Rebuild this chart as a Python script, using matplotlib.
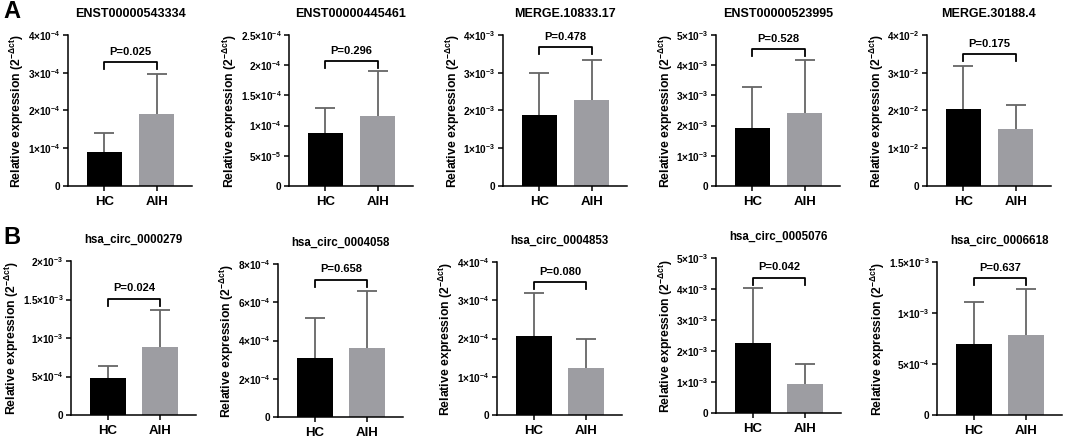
#!/usr/bin/env python3
"""bar charts of relative expression, HC vs AIH"""

import matplotlib
matplotlib.use("Agg")
import matplotlib.pyplot as plt

groups = ["HC", "AIH"]

titles_a = ["ENST00000543334", "ENST00000445461", "MERGE.10833.17",
            "ENST00000523995", "MERGE.30188.4"]
means_a = [[0.91e-4, 1.92e-4], [0.874e-4, 1.167e-4], [1.88e-3, 2.28e-3],
           [1.92e-3, 2.42e-3], [2.04e-2, 1.50e-2]]
sd_a = [[0.50e-4, 1.06e-4], [0.416e-4, 0.733e-4], [1.12e-3, 1.07e-3],
        [1.37e-3, 1.76e-3], [1.13e-2, 0.65e-2]]
pvals_a = ["P=0.025", "P=0.296", "P=0.478", "P=0.528", "P=0.175"]
bracket_a = [3.29e-4, 2.07e-4, 3.67e-3, 4.53e-3, 3.50e-2]
ymax_a = [4e-4, 2.5e-4, 4e-3, 5e-3, 4e-2]
ystep_a = [1e-4, 0.5e-4, 1e-3, 1e-3, 1e-2]

titles_b = ["hsa_circ_0000279", "hsa_circ_0004058", "hsa_circ_0004853",
            "hsa_circ_0005076", "hsa_circ_0006618"]
means_b = [[0.486e-3, 0.88e-3], [3.08e-4, 3.59e-4], [2.07e-4, 1.24e-4],
           [2.26e-3, 0.94e-3], [0.698e-3, 0.786e-3]]
sd_b = [[0.144e-3, 0.48e-3], [2.08e-4, 3.00e-4], [1.13e-4, 0.74e-4],
        [1.77e-3, 0.63e-3], [0.412e-3, 0.454e-3]]
pvals_b = ["P=0.024", "P=0.658", "P=0.080", "P=0.042", "P=0.637"]
bracket_b = [1.51e-3, 7.18e-4, 3.48e-4, 4.36e-3, 1.343e-3]
ymax_b = [2e-3, 8e-4, 4e-4, 5e-3, 1.5e-3]
ystep_b = [0.5e-3, 2e-4, 1e-4, 1e-3, 0.5e-3]

plt.rcParams["font.family"] = ["Liberation Sans", "DejaVu Sans"]
plt.rcParams["font.weight"] = "bold"
plt.rcParams["mathtext.fontset"] = "custom"
plt.rcParams["mathtext.rm"] = "Liberation Sans:bold"
plt.rcParams["mathtext.it"] = "Liberation Sans:bold:italic"
plt.rcParams["mathtext.bf"] = "Liberation Sans:bold"
plt.rcParams["mathtext.default"] = "rm"

W, H = 1065, 437
fig = plt.figure(figsize=(W / 100, H / 100), dpi=100)

# pixel layout: left, top, zero line, width
layout_a = [(68, 35, 186, 124), (289, 35, 186, 124), (503, 35, 186, 124),
            (716, 35, 186, 124), (927, 35, 186, 124)]
layout_b = [(71, 261, 415, 125), (278, 264, 417, 125), (497, 262, 415, 125),
            (716, 258, 413, 125), (937, 262, 415, 125)]


def tick_label(v):
    """format as m x 10^e"""
    if v == 0:
        return "0"
    m, e = f"{v:.1e}".split("e")
    m = m.rstrip("0").rstrip(".")
    return m + "×" + r"$10^{" + str(int(e)) + "}$"


def panel(rect, title, means, sd, pval, bracket, ymax, ystep, tsize):
    left, top, zero, width = rect
    ax = fig.add_axes([left / W, 1 - zero / H, width / W, (zero - top) / H])
    x = [0, 1]
    eb = ax.errorbar(x, means, yerr=[[0, 0], sd], fmt="none",
                     ecolor="#666666", elinewidth=1.3, capsize=7.5,
                     capthick=1.3, zorder=1)
    # hide the caps that sit on the bar tops
    for cap in eb[1]:
        if list(cap.get_ydata()) == list(means):
            cap.set_visible(False)
    ax.bar(x, means, width=0.68, color=["black", "#9d9da2"], zorder=2)
    # significance bracket
    drop = 0.045 * ymax
    ax.plot([0, 0, 1, 1], [bracket - drop, bracket, bracket, bracket - drop],
            color="black", lw=1.3, clip_on=False)
    ax.text(0.5, bracket + 0.035 * ymax, pval, ha="center", va="bottom",
            fontsize=8, fontweight="bold")
    ax.set_xlim(-0.7, 1.68)
    ax.set_ylim(0, ymax)
    n = int(round(ymax / ystep))
    ticks = [i * ystep for i in range(n + 1)]
    ax.set_yticks(ticks)
    ax.set_yticklabels([tick_label(t) for t in ticks], fontsize=7.2)
    ax.set_xticks(x)
    ax.set_xticklabels(groups, fontsize=9.5, fontweight="bold")
    for s in ["top", "right"]:
        ax.spines[s].set_visible(False)
    for s in ["left", "bottom"]:
        ax.spines[s].set_linewidth(1.1)
    ax.tick_params(width=1.1, length=3.5)
    ax.tick_params(axis="y", pad=2)
    ax.set_ylabel(r"Relative expression (2$^{-\Delta ct}$)", fontsize=8.8,
                  fontweight="bold", labelpad=1)
    ax.set_title(title, fontsize=tsize, fontweight="bold", pad=13)
    return ax


for i in range(5):
    panel(layout_a[i], titles_a[i], means_a[i], sd_a[i], pvals_a[i],
          bracket_a[i], ymax_a[i], ystep_a[i], 9)
    panel(layout_b[i], titles_b[i], means_b[i], sd_b[i], pvals_b[i],
          bracket_b[i], ymax_b[i], ystep_b[i], 8.3)

fig.text(3 / W, 1 - 12 / H, "A", fontsize=17, fontweight="bold", va="center")
fig.text(3 / W, 1 - 238 / H, "B", fontsize=17, fontweight="bold", va="center")

fig.savefig("out.png", dpi=100)
